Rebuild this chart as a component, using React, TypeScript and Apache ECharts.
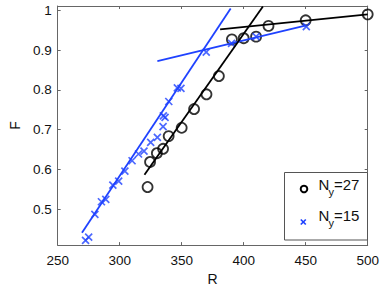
import React, { useEffect, useRef } from "react";
import * as echarts from "echarts";

const R27 = [322.5, 324.5, 330, 335, 339.5, 350, 360, 370, 380, 390.5, 400, 410, 420, 450, 500];
const F27 = [0.556, 0.619, 0.641, 0.652, 0.684, 0.705, 0.752, 0.789, 0.835, 0.927, 0.93, 0.934, 0.961, 0.975, 0.99];

const R15 = [272.5, 275, 280, 285.3, 288.8, 294.5, 299.2, 304.2, 310, 315.2, 319.6, 325, 330.4, 335, 335.2, 336.6, 339.6, 346.5, 349.4, 369.8, 390.2, 410, 450.5];
const F15 = [0.422, 0.43, 0.487, 0.519, 0.525, 0.561, 0.571, 0.596, 0.622, 0.639, 0.646, 0.668, 0.681, 0.708, 0.735, 0.731, 0.771, 0.805, 0.804, 0.895, 0.917, 0.934, 0.959];

const FIT27_STEEP_R = [320, 415.5];
const FIT27_STEEP_F = [0.587, 1.01];
const FIT27_FLAT_R = [381, 500];
const FIT27_FLAT_F = [0.952, 0.99];
const FIT15_STEEP_R = [269.6, 389.5];
const FIT15_STEEP_F = [0.441, 1.005];
const FIT15_FLAT_R = [330.4, 450.5];
const FIT15_FLAT_F = [0.8725, 0.962];

const X_TICKS = [250, 300, 350, 400, 450, 500];
const Y_TICKS = [0.5, 0.6, 0.7, 0.8, 0.9, 1.0];

const BLUE = "#1f42ff";
const FONT = "'Liberation Sans', Arial, Helvetica, sans-serif";
const AXIS_COLOR = "#666";

const zip = (a: number[], b: number[]) => a.map((v, i) => [v, b[i]]);

export default function App() {
  const ref = useRef<HTMLDivElement>(null);
  useEffect(() => {
    if (!ref.current) return;
    const chart = echarts.init(ref.current, undefined, { renderer: "svg" });
    const xBase = {
      type: "value",
      min: 250,
      max: 500,
      interval: 50,
      splitLine: { show: false },
      axisLine: { lineStyle: { color: AXIS_COLOR, width: 1 } },
      axisTick: { inside: true, length: 3, lineStyle: { color: AXIS_COLOR } },
    };
    const yBase = {
      type: "value",
      min: 0.41,
      max: 1.011,
      splitLine: { show: false },
      axisLine: { lineStyle: { color: AXIS_COLOR, width: 1 } },
      axisTick: { inside: true, length: 3, customValues: Y_TICKS, lineStyle: { color: AXIS_COLOR } },
    };
    chart.setOption({
      animation: false,
      textStyle: { fontFamily: FONT },
      grid: { left: 49.3, right: 14.3, top: 6, bottom: 34.3 },
      xAxis: [
        {
          ...xBase,
          position: "bottom",
          name: "R",
          nameLocation: "middle",
          nameGap: 21,
          nameTextStyle: { fontSize: 14, color: "#111", fontFamily: FONT },
          axisLabel: { fontSize: 13.5, color: "#111", margin: 8, fontFamily: FONT, customValues: X_TICKS },
        },
        { ...xBase, position: "top", axisLabel: { show: false } },
      ],
      yAxis: [
        {
          ...yBase,
          position: "left",
          name: "F",
          nameLocation: "middle",
          nameGap: 35,
          nameTextStyle: { fontSize: 14, color: "#111", fontFamily: FONT },
          axisLabel: {
            fontSize: 13.5,
            color: "#111",
            margin: 6,
            fontFamily: FONT,
            customValues: Y_TICKS,
            formatter: (v: number) => (Math.abs(v - 1) < 1e-9 ? "1" : v.toFixed(1)),
          },
        },
        { ...yBase, position: "right", axisLabel: { show: false } },
      ],
      series: [
        {
          type: "line",
          data: zip(FIT15_STEEP_R, FIT15_STEEP_F),
          showSymbol: false,
          lineStyle: { color: BLUE, width: 1.8 },
          silent: true,
        },
        {
          type: "line",
          data: zip(FIT15_FLAT_R, FIT15_FLAT_F),
          showSymbol: false,
          lineStyle: { color: BLUE, width: 1.8 },
          silent: true,
        },
        {
          type: "line",
          data: zip(FIT27_STEEP_R, FIT27_STEEP_F),
          showSymbol: false,
          lineStyle: { color: "#000", width: 1.8 },
          silent: true,
        },
        {
          type: "line",
          data: zip(FIT27_FLAT_R, FIT27_FLAT_F),
          showSymbol: false,
          lineStyle: { color: "#000", width: 1.8 },
          silent: true,
        },
        {
          type: "scatter",
          name: "Ny=27",
          data: zip(R27, F27),
          symbol: "circle",
          symbolSize: 10,
          itemStyle: { color: "transparent", borderColor: "#000", borderWidth: 1.8 },
        },
        {
          type: "scatter",
          name: "Ny=15",
          data: zip(R15, F15),
          symbol: "path://M0,0L10,10M10,0L0,10",
          symbolSize: 7,
          itemStyle: { color: "transparent", borderColor: BLUE, borderWidth: 1.7 },
        },
      ],
      graphic: [
        {
          type: "rect",
          shape: { x: 284.5, y: 172.5, width: 83, height: 67.5 },
          style: { fill: "#fff", stroke: "#555", lineWidth: 1 },
          z: 100,
        },
        {
          type: "circle",
          shape: { cx: 304, cy: 189, r: 3.3 },
          style: { fill: "none", stroke: "#000", lineWidth: 2 },
          z: 101,
        },
        {
          type: "line",
          shape: { x1: 300.8, y1: 219.5, x2: 305.8, y2: 224.5 },
          style: { stroke: BLUE, lineWidth: 1.7 },
          z: 101,
        },
        {
          type: "line",
          shape: { x1: 305.8, y1: 219.5, x2: 300.8, y2: 224.5 },
          style: { stroke: BLUE, lineWidth: 1.7 },
          z: 101,
        },
        {
          type: "text",
          x: 318.5,
          y: 184.5,
          style: { text: "N", fontSize: 15, fontFamily: FONT, fill: "#111", verticalAlign: "middle" },
          z: 101,
        },
        {
          type: "text",
          x: 328.5,
          y: 192,
          style: { text: "y", fontSize: 11, fontFamily: FONT, fill: "#111", verticalAlign: "middle" },
          z: 101,
        },
        {
          type: "text",
          x: 334,
          y: 184.5,
          style: { text: "=27", fontSize: 15, fontFamily: FONT, fill: "#111", verticalAlign: "middle" },
          z: 101,
        },
        {
          type: "text",
          x: 318.5,
          y: 215,
          style: { text: "N", fontSize: 15, fontFamily: FONT, fill: "#111", verticalAlign: "middle" },
          z: 101,
        },
        {
          type: "text",
          x: 328.5,
          y: 222.5,
          style: { text: "y", fontSize: 11, fontFamily: FONT, fill: "#111", verticalAlign: "middle" },
          z: 101,
        },
        {
          type: "text",
          x: 334,
          y: 215,
          style: { text: "=15", fontSize: 15, fontFamily: FONT, fill: "#111", verticalAlign: "middle" },
          z: 101,
        },
      ],
    });
    return () => chart.dispose();
  }, []);
  return (
    <div
      ref={ref}
      style={{ position: "fixed", left: 0, top: 0, width: 382, height: 291, background: "#fff" }}
    />
  );
}
